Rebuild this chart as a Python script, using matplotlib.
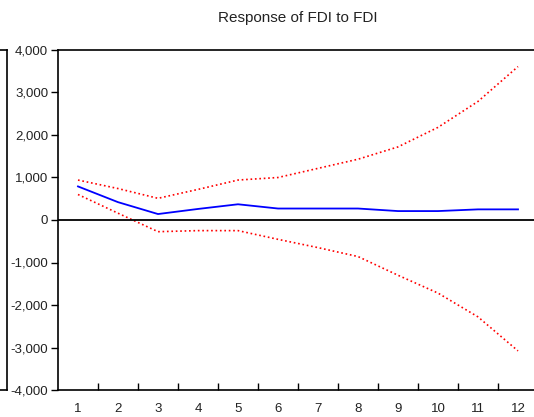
import matplotlib
matplotlib.use("Agg")
import matplotlib.pyplot as plt
from matplotlib.ticker import FuncFormatter

# --- Data ---
periods = [1, 2, 3, 4, 5, 6, 7, 8, 9, 10, 11, 12]
response = [790, 420, 140, 260, 370, 270, 270, 270, 210, 210, 250, 250]
upper = [940, 740, 510, 720, 940, 1000, 1215, 1430, 1720, 2180, 2790, 3610]
lower = [600, 160, -275, -250, -250, -455, -650, -860, -1300, -1720, -2280, -3080]
y_ticks = [-4000, -3000, -2000, -1000, 0, 1000, 2000, 3000, 4000]

plt.rcParams['font.family'] = ['Liberation Sans', 'DejaVu Sans']

W, H = 534, 417
fig = plt.figure(figsize=(W / 100, H / 100), dpi=100)

# part of the neighbouring panel, cut off at the left edge
ax0 = fig.add_axes([-300 / W, 27 / H, 307 / W, 340 / H])
ax0.set_xticks([])
ax0.set_yticks([])
ax0.spines['left'].set_visible(False)
for s in ['top', 'bottom', 'right']:
    ax0.spines[s].set_linewidth(1.2)

# main panel, its right edge runs past the image
ax = fig.add_axes([58 / W, 27 / H, 480 / W, 340 / H])
ax.plot(periods, upper, color='red', linestyle=':', linewidth=1.2)
ax.plot(periods, lower, color='red', linestyle=':', linewidth=1.2)
ax.plot(periods, response, color='blue', linewidth=1.3)
ax.axhline(0, color='black', linewidth=1.3)

ax.set_xlim(0.5, 12.5)
ax.set_ylim(-4000, 4000)
ax.set_yticks(y_ticks)
ax.yaxis.set_major_formatter(FuncFormatter(lambda v, p: f"{int(v):,}"))
ax.set_xticks(periods)
ax.set_xticks([p + 0.5 for p in periods[:-1]], minor=True)
ax.tick_params(axis='x', which='major', length=0, labelsize=9.5, pad=9)
ax.tick_params(axis='x', which='minor', direction='in', length=5, width=1)
ax.tick_params(axis='y', direction='out', length=5, width=1, labelsize=9.5, pad=2)
for lab in ax.get_yticklabels() + ax.get_xticklabels():
    lab.set_color('#222222')
for s in ax.spines.values():
    s.set_linewidth(1.2)

ax.set_title('Response of FDI to FDI', fontsize=11, color='#222222', pad=20)

fig.savefig('out.png', dpi=100)
